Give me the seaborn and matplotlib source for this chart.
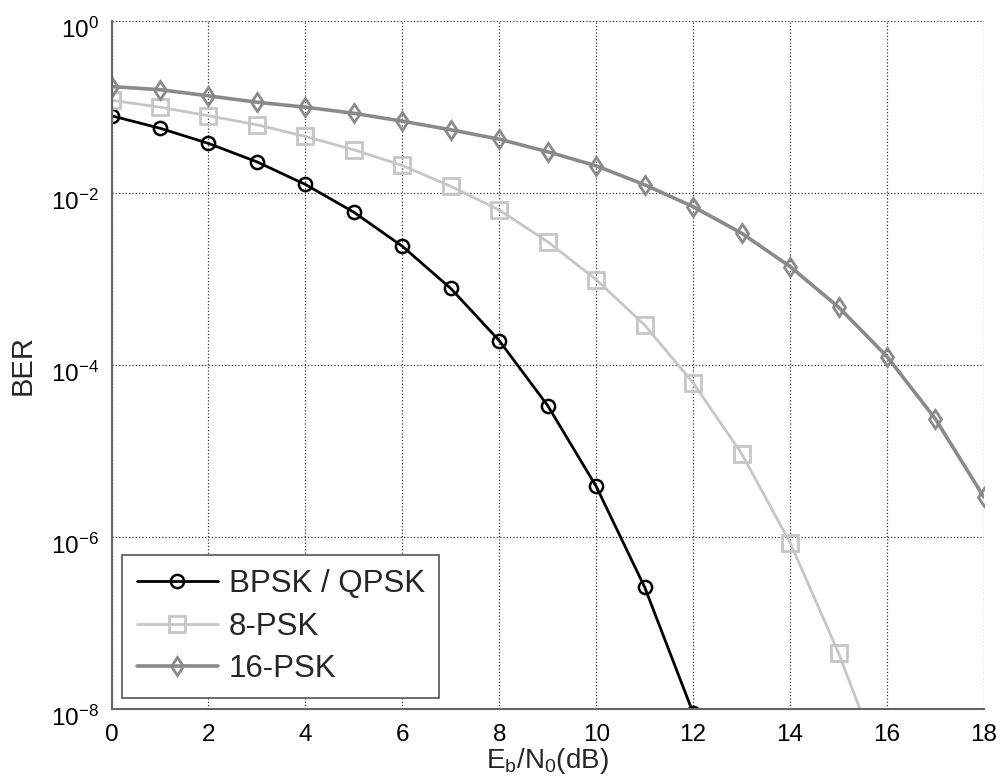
import numpy as np
import pandas as pd
import matplotlib
matplotlib.use("Agg")
import matplotlib.pyplot as plt
import matplotlib.transforms as mtransforms
import seaborn as sns
from matplotlib.ticker import FixedLocator, FuncFormatter, NullLocator

# Eb/N0 values (dB) and BER
ebn0_bpsk = [0, 1, 2, 3, 4, 5, 6, 7, 8, 9, 10, 11, 12]
ber_bpsk = [7.86e-2, 5.63e-2, 3.75e-2, 2.29e-2, 1.25e-2, 5.95e-3, 2.39e-3,
            7.73e-4, 1.91e-4, 3.36e-5, 3.87e-6, 2.61e-7, 9.0e-9]

ebn0_8psk = [0, 1, 2, 3, 4, 5, 6, 7, 8, 9, 10, 11, 12, 13, 14, 15, 16]
ber_8psk = [0.119, 0.099, 0.0786, 0.0618, 0.0452, 0.0316, 0.0208, 0.0119,
            6.3e-3, 2.7e-3, 9.8e-4, 2.9e-4, 6.2e-5, 9.3e-6, 8.6e-7, 4.5e-8, 1.5e-9]

ebn0_16psk = [0, 1, 2, 3, 4, 5, 6, 7, 8, 9, 10, 11, 12, 13, 14, 15, 16, 17, 18]
ber_16psk = [0.172, 0.158, 0.134, 0.113, 0.099, 0.084, 0.068, 0.054, 0.042,
             0.030, 0.0206, 0.0124, 6.9e-3, 3.4e-3, 1.39e-3, 4.7e-4, 1.25e-4,
             2.35e-5, 2.9e-6]

sns.set_style("white")
plt.rcParams['font.family'] = ['Liberation Sans', 'DejaVu Sans']
plt.rcParams['mathtext.fontset'] = 'custom'
plt.rcParams['mathtext.rm'] = 'Liberation Sans'
plt.rcParams['mathtext.it'] = 'Liberation Sans'

fig = plt.figure(figsize=(10.05, 7.83), dpi=100)
ax = fig.add_axes([0.111, 0.0945, 0.868, 0.879])

sns.lineplot(x=ebn0_bpsk, y=ber_bpsk, ax=ax, color='black', lw=2.0,
             marker='o', ms=9.5, mfc='none', mec='black', mew=1.8,
             label='BPSK / QPSK')
sns.lineplot(x=ebn0_8psk, y=ber_8psk, ax=ax, color='#c6c6c6', lw=2.0,
             marker='s', ms=11, mfc='none', mec='#c6c6c6', mew=2.0,
             label='8-PSK')
sns.lineplot(x=ebn0_16psk, y=ber_16psk, ax=ax, color='#8a8a8a', lw=2.6,
             marker='d', ms=9.5, mfc='none', mec='#8a8a8a', mew=2.0,
             label='16-PSK')

ax.set_yscale('log')
ax.set_xlim(0, 18)
ax.set_ylim(1e-8, 1)
ax.xaxis.set_major_locator(FixedLocator(range(0, 19, 2)))
ax.yaxis.set_major_locator(FixedLocator([1e-8, 1e-6, 1e-4, 1e-2, 1e0]))
ax.yaxis.set_minor_locator(NullLocator())
ax.yaxis.set_major_formatter(FuncFormatter(
    lambda v, p: r'$\mathregular{10^{%d}}$' % int(round(np.log10(v)))))

ax.grid(True, which='major', linestyle=':', color='#333333', lw=0.9)
ax.tick_params(axis='both', direction='in', length=5, labelsize=17.5,
               colors='#555555', labelcolor='black')
ax.tick_params(axis='x', pad=11)
ax.tick_params(axis='y', pad=9)
for s in ['top', 'right']:
    ax.spines[s].set_visible(False)
for s in ['left', 'bottom']:
    ax.spines[s].set_color('#666666')
    ax.spines[s].set_linewidth(1.5)

# MATLAB puts the "10" just below the grid line
shift = mtransforms.ScaledTranslation(0, -5 / 72, fig.dpi_scale_trans)
for lab in ax.get_yticklabels():
    lab.set_transform(lab.get_transform() + shift)

ax.set_xlabel(r'$\mathregular{E_b/N_0}$(dB)', fontsize=20, labelpad=0)
ax.set_ylabel('BER', fontsize=21, labelpad=10)

leg = ax.legend(loc='lower left', fontsize=22.5, handlelength=2.6,
                borderaxespad=0.35, frameon=True, fancybox=False,
                edgecolor='#555555', framealpha=1, borderpad=0.45,
                labelspacing=0.4, handletextpad=0.35)
leg.get_frame().set_linewidth(1.2)

fig.savefig('out.png', dpi=100)
